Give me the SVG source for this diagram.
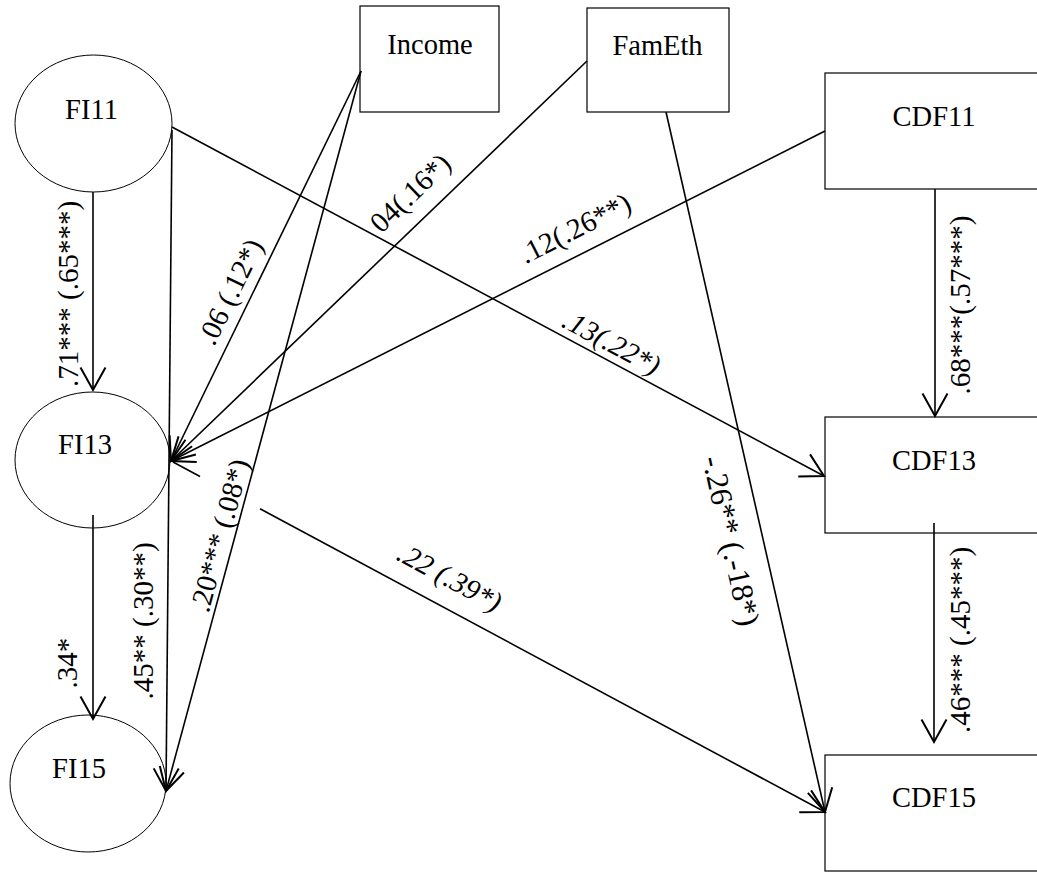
<svg xmlns="http://www.w3.org/2000/svg" width="1037" height="873" viewBox="0 0 1037 873">
<style>
.node{fill:#fff;stroke:#000;stroke-width:1.2}
.lat{fill:#fff;stroke:#000;stroke-width:1}
.t{font-family:"Liberation Serif","Times New Roman",serif;font-size:28.5px;fill:#000;text-anchor:middle}
.l{font-family:"Liberation Serif","Times New Roman",serif;font-size:29px;fill:#000;text-anchor:middle}
.i{font-style:italic}
.c{fill:none;stroke:#000;stroke-width:1.6}
</style>
<defs>
<marker id="arr" markerUnits="userSpaceOnUse" markerWidth="30" markerHeight="30" viewBox="-20 -12 22 24" refX="0" refY="0" orient="auto">
<path d="M-18,-10 L0,0 L-18,10" fill="none" stroke="#000" stroke-width="1.6"/>
</marker>
</defs>
<rect width="1037" height="873" fill="#fff"/>
<g id="FI11"><ellipse class="lat" cx="93.5" cy="123.5" rx="78.5" ry="68.5"/><text class="t" x="91.5" y="119">FI11</text></g>
<g id="FI13"><ellipse class="lat" cx="92.5" cy="460" rx="77.5" ry="68"/><text class="t" x="85" y="454">FI13</text></g>
<g id="FI15"><ellipse class="lat" cx="88" cy="783.5" rx="78" ry="68.5"/><text class="t" x="79" y="778">FI15</text></g>
<g id="Income"><rect class="node" x="360" y="6" width="139" height="106"/><text class="t" x="430" y="54">Income</text></g>
<g id="FamEth"><rect class="node" x="587" y="8" width="142" height="104"/><text class="t" x="657.5" y="55">FamEth</text></g>
<g id="CDF11"><rect class="node" x="825" y="73" width="220" height="116"/><text class="t" x="934" y="126">CDF11</text></g>
<g id="CDF13"><rect class="node" x="825" y="417" width="220" height="116"/><text class="t" x="934" y="470">CDF13</text></g>
<g id="CDF15"><rect class="node" x="825" y="755" width="220" height="116"/><text class="t" x="934" y="807">CDF15</text></g>
<g id="connectors">
<line class="c" x1="93" y1="192" x2="93" y2="390" marker-end="url(#arr)"/>
<line class="c" x1="93" y1="515" x2="93" y2="719" marker-end="url(#arr)"/>
<line class="c" x1="172" y1="130" x2="166" y2="791" marker-end="url(#arr)"/>
<line class="c" x1="172" y1="127" x2="824" y2="476" marker-end="url(#arr)"/>
<line class="c" x1="361" y1="71" x2="171" y2="461" marker-end="url(#arr)"/>
<line class="c" x1="361" y1="71" x2="166" y2="791" marker-end="url(#arr)"/>
<line class="c" x1="587" y1="61" x2="171" y2="461" marker-end="url(#arr)"/>
<line class="c" x1="666" y1="112" x2="825" y2="812" marker-end="url(#arr)"/>
<line class="c" x1="825" y1="131" x2="171" y2="461" marker-end="url(#arr)"/>
<line class="c" x1="935" y1="189" x2="935" y2="416" marker-end="url(#arr)"/>
<line class="c" x1="934" y1="523" x2="934" y2="742" marker-end="url(#arr)"/>
<line class="c" x1="173" y1="462" x2="200" y2="476.5"/>
<line class="c" x1="260" y1="508.7" x2="825" y2="812" marker-end="url(#arr)"/>
<text class="l" transform="translate(78 294) rotate(-90)">.71*** (.65***)</text>
<text class="l" transform="translate(77 663) rotate(-90)">.34*</text>
<text class="l" transform="translate(153 621) rotate(-90)">.45** (.30**)</text>
<text class="l" transform="translate(970 305) rotate(-90)">.68***(.57***)</text>
<text class="l" transform="translate(970 640) rotate(-90)">.46*** (.45***)</text>
<text class="l" style="font-size:31px" transform="translate(721 543) rotate(77.5)">-.26** (.-18*)</text>
<text class="l" transform="translate(239 296) rotate(-64)">.06 (.12*)</text>
<text class="l" transform="translate(417 200) rotate(-43.9)">04(.16*)</text>
<text class="l" transform="translate(579.5 237) rotate(-26.8)">.12(.26**)</text>
<text class="l i" transform="translate(607 351) rotate(28.2)">.13(.22*)</text>
<text class="l i" transform="translate(445 586) rotate(28.3)">.22 (.39*)</text>
<text class="l" transform="translate(229 538) rotate(-74.8)">.20*** (.08*)</text>
</g>
</svg>
